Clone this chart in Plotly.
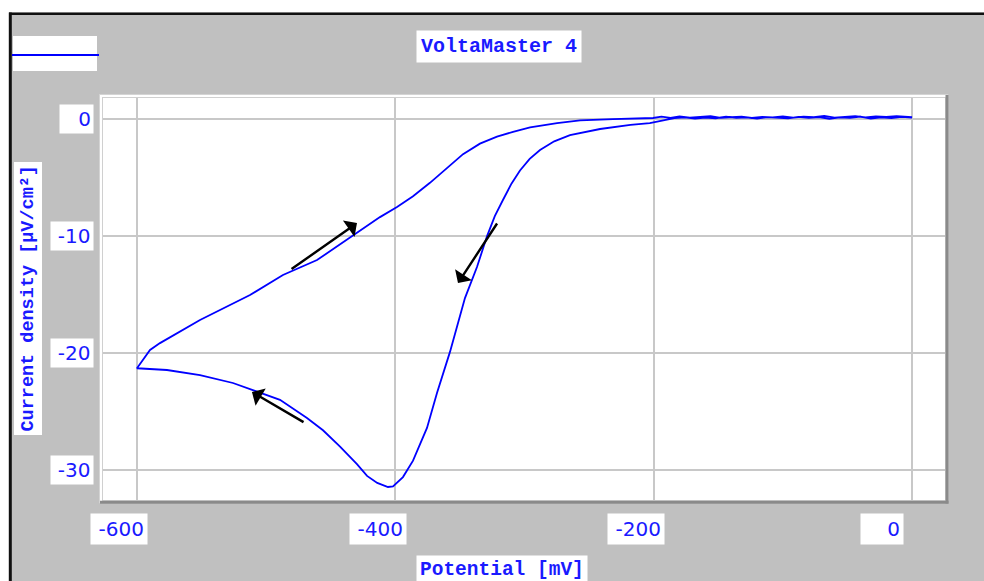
import plotly.graph_objects as go

# ---------------- data ----------------
# cathodic sweep: 0 mV -> -600 mV
fwd_potential = [0, -8, -16, -24, -32, -40, -48, -56, -64, -72, -80, -88, -96,
                 -104, -112, -120, -128, -136, -144, -152, -160, -168, -176,
                 -184, -192, -203, -218, -241.5, -264.8, -277, -288, -296,
                 -303.5, -310, -316.6, -323, -329, -336.8, -346.1, -357.7,
                 -367.7, -375.5, -386.3, -394.1, -401.8, -405.7, -414, -421.9,
                 -429.7, -442.8, -456, -468.4, -489.3, -510.2, -525.7, -551.2,
                 -576.8, -600]
fwd_current = [0.12, 0.18, 0.08, 0.15, 0.05, 0.2, 0.1, 0.14, 0.02, 0.17, 0.1,
               0.19, 0.06, 0.13, 0.16, 0.04, 0.14, 0.1, 0.2, 0.07, 0.12, 0.03,
               0.15, 0.08, -0.08, -0.34, -0.5, -0.85, -1.37, -1.9, -2.65, -3.4,
               -4.4, -5.5, -6.9, -8.3, -10.0, -12.65, -15.3, -19.9, -23.4,
               -26.4, -29.2, -30.6, -31.4, -31.45, -31.1, -30.5, -29.5, -28.0,
               -26.6, -25.56, -24.0, -23.16, -22.56, -21.88, -21.45, -21.3]
# anodic (return) sweep: -600 mV -> 0 mV
rev_potential = [-600, -589.9, -582.2, -564.4, -551.2, -512.5, -487, -460.6,
                 -435.1, -411.9, -398.7, -386.3, -373.2, -360, -347.6, -334.5,
                 -321.3, -308.9, -295.7, -274.8, -257, -231.5, -200.5, -194,
                 -187, -180, -172, -164, -156, -148, -140, -132, -124, -116,
                 -108, -100, -92, -84, -76, -68, -60, -52, -44, -36, -28, -20,
                 -12, -6, 0]
rev_current = [-21.3, -19.74, -19.15, -18.03, -17.18, -15.04, -13.33, -12.05,
               -10.09, -8.38, -7.52, -6.6, -5.45, -4.15, -3.0, -2.1, -1.5,
               -1.1, -0.72, -0.34, -0.12, 0.0, 0.09, 0.2, 0.1, 0.22, 0.12,
               0.18, 0.25, 0.11, 0.17, 0.21, 0.09, 0.19, 0.14, 0.23, 0.13,
               0.2, 0.16, 0.26, 0.12, 0.19, 0.24, 0.15, 0.22, 0.18, 0.25, 0.2,
               0.16]

x_ticks = [-600, -400, -200, 0]
x_tick_labels = ["-600", "-400", "-200", "0"]
y_ticks = [0, -10, -20, -30]
y_tick_labels = ["0", "-10", "-20", "-30"]

title_text = "VoltaMaster 4"
x_title = "Potential [mV]"
y_title = "Current density [µV/cm²]"

# sweep-direction arrows (tail -> head), in data units
arrow_tail_x = [-481.5, -320.5, -469.9]
arrow_tail_y = [-12.91, -8.80, -25.98]
arrow_head_x = [-429.7, -351.5, -511.0]
arrow_head_y = [-8.89, -14.02, -23.33]

# ---------------- layout geometry (pixels) ----------------
W, H = 984, 581
L, R, T, B = 103, 945, 98, 500
PW, PH = R - L, B - T


def px(x):
    return (x - L) / PW


def py(y):
    return (B - y) / PH


BLUE = "#0000ff"
TXT = "#1a1aff"
GRID = "#c8c8c8"
BG = "#c0c0c0"

fig = go.Figure()
fig.add_trace(go.Scatter(
    x=fwd_potential + rev_potential[1:],
    y=fwd_current + rev_current[1:],
    mode="lines",
    line=dict(color=BLUE, width=1.8),
    showlegend=False,
    hoverinfo="skip",
))

shapes = []
# white strips outside the black border
shapes.append(dict(type="rect", xref="paper", yref="paper", x0=px(-5), x1=px(9),
                   y0=py(-5), y1=py(H + 5), fillcolor="white", line_width=0,
                   layer="below"))
shapes.append(dict(type="rect", xref="paper", yref="paper", x0=px(-5), x1=px(W + 5),
                   y0=py(-5), y1=py(12.5), fillcolor="white", line_width=0,
                   layer="below"))
# black border (top and left)
shapes.append(dict(type="line", xref="paper", yref="paper", x0=px(9), x1=px(W + 5),
                   y0=py(13.8), y1=py(13.8), line=dict(color="#101010", width=2.5)))
shapes.append(dict(type="line", xref="paper", yref="paper", x0=px(10.3), x1=px(10.3),
                   y0=py(12.5), y1=py(H + 5), line=dict(color="#101010", width=3)))
# legend box
shapes.append(dict(type="rect", xref="paper", yref="paper", x0=px(13), x1=px(97),
                   y0=py(71), y1=py(36), fillcolor="white", line_width=0))
shapes.append(dict(type="line", xref="paper", yref="paper", x0=px(12), x1=px(99),
                   y0=py(55), y1=py(55), line=dict(color=BLUE, width=2)))
# plot frame (white bevel with shadow)
shapes.append(dict(type="rect", xref="paper", yref="paper", x0=px(99.5), x1=px(948),
                   y0=py(503), y1=py(94.5), fillcolor="white",
                   line=dict(color="#d4d4d4", width=1), layer="below"))
shapes.append(dict(type="line", xref="paper", yref="paper", x0=px(100), x1=px(948.5),
                   y0=py(502.3), y1=py(502.3), line=dict(color="#8a8a8a", width=3)))
shapes.append(dict(type="line", xref="paper", yref="paper", x0=px(947), x1=px(947),
                   y0=py(95), y1=py(503.5), line=dict(color="#8a8a8a", width=3)))

annotations = []
# y tick labels in white boxes
for v, t in zip(y_ticks, y_tick_labels):
    w = max(12.5 * len(t), 29)
    annotations.append(dict(
        xref="paper", yref="y", x=px(94), y=v, xanchor="right", yanchor="middle",
        text=t, showarrow=False, bgcolor="white", width=w, height=24,
        align="right", borderpad=2,
        font=dict(family="DejaVu Sans", size=20, color=TXT)))
# x tick labels in white boxes
for v, t in zip(x_ticks, x_tick_labels):
    w = max(12.5 * len(t), 36)
    tw = 12.7 * len(t)
    annotations.append(dict(
        xref="x", yref="paper", x=v, y=py(529), xanchor="center", yanchor="middle",
        xshift=-18 - (w - tw) / 2,
        text=t, showarrow=False, bgcolor="white", width=w, height=24,
        align="right", borderpad=3,
        font=dict(family="DejaVu Sans", size=20, color=TXT)))
# title and axis titles
annotations.append(dict(
    xref="paper", yref="paper", x=px(498.5), y=py(47), xanchor="center",
    yanchor="middle", text="<b>" + title_text + "</b>", showarrow=False,
    bgcolor="white", borderpad=4,
    font=dict(family="Liberation Mono", size=20, color=TXT)))
annotations.append(dict(
    xref="paper", yref="paper", x=px(501.5), y=py(570), xanchor="center",
    yanchor="middle", text="<b>" + x_title + "</b>", showarrow=False,
    bgcolor="white", borderpad=3,
    font=dict(family="Liberation Mono", size=19.5, color=TXT)))
annotations.append(dict(
    xref="paper", yref="paper", x=px(27.5), y=py(299), xanchor="center",
    yanchor="middle", text="<b>" + y_title + "</b>", showarrow=False,
    textangle=-90, bgcolor="white", borderpad=3,
    font=dict(family="Liberation Mono", size=18.5, color=TXT)))
# sweep arrows
for hx, hy, tx, ty in zip(arrow_head_x, arrow_head_y, arrow_tail_x, arrow_tail_y):
    annotations.append(dict(
        x=hx, y=hy, ax=tx, ay=ty, xref="x", yref="y", axref="x", ayref="y",
        text="", showarrow=True, arrowhead=1, arrowsize=1.4, arrowwidth=2.4,
        arrowcolor="#000000", standoff=0, startstandoff=0))

fig.update_layout(
    width=W, height=H,
    margin=dict(l=L, r=W - R, t=T, b=H - B),
    paper_bgcolor=BG, plot_bgcolor="white",
    shapes=shapes, annotations=annotations,
    showlegend=False,
)
fig.update_xaxes(range=[-626.3, 25.5], tickvals=x_ticks, showticklabels=False,
                 ticks="", showgrid=True, gridcolor=GRID, gridwidth=2,
                 zeroline=False, showline=True, mirror=True,
                 linecolor="#d0d0d0", linewidth=1, fixedrange=True)
fig.update_yaxes(range=[-32.56, 1.8], tickvals=y_ticks, showticklabels=False,
                 ticks="", showgrid=True, gridcolor=GRID, gridwidth=2,
                 zeroline=False, showline=True, mirror=True,
                 linecolor="#d0d0d0", linewidth=1, fixedrange=True)

fig.write_html("out.html", config={"displayModeBar": False})
